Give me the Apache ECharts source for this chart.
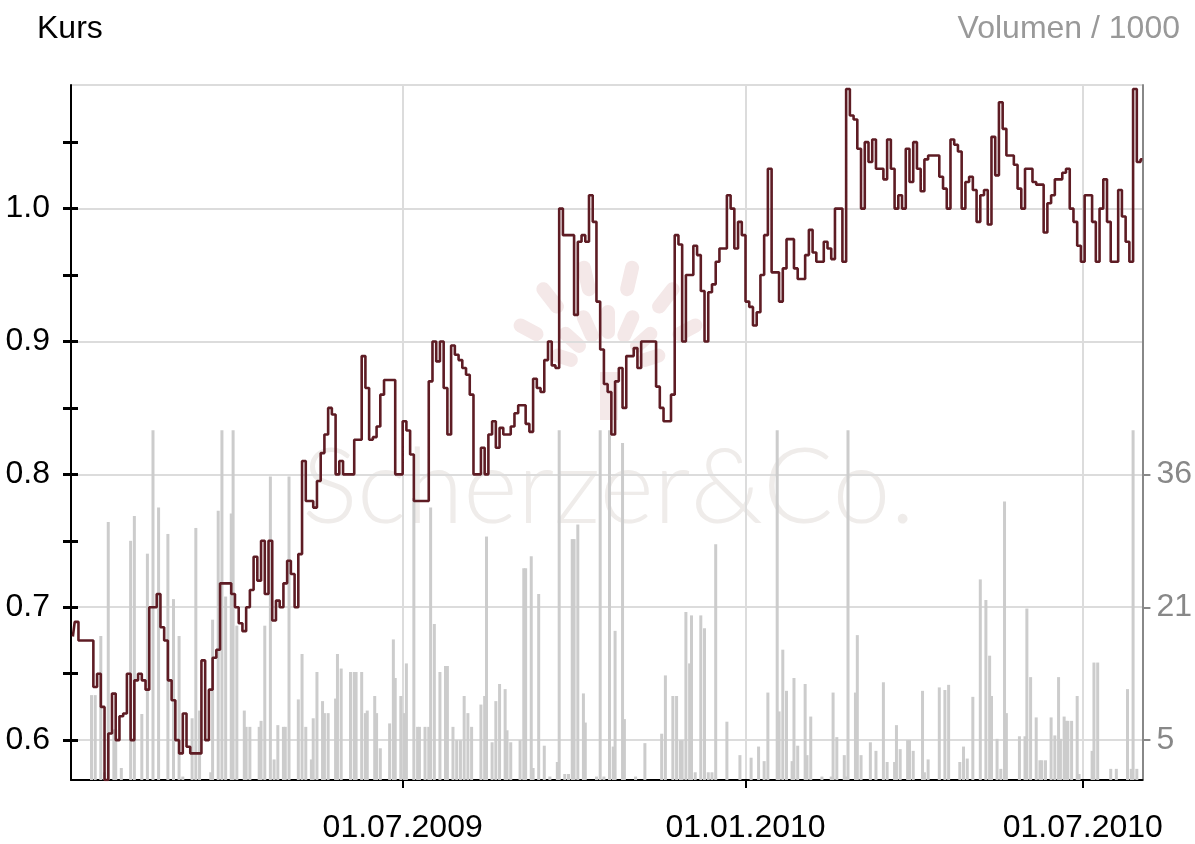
<!DOCTYPE html>
<html><head><meta charset="utf-8">
<script src="https://cdn.jsdelivr.net/npm/echarts@6/dist/echarts.min.js"></script>
<style>html,body{margin:0;padding:0;background:#fff}#c{width:1195px;height:844px}</style>
</head><body><div id="c"></div>
<script>
// ---- data ----
const axisStart = '2009-01-04';
const axisEnd = '2010-08-02';
const kursFirstDate = '2009-01-05';
const kursStepDays = 2;
const kurs = [
0.678,0.689,0.675,0.675,0.675,0.675,0.640,0.650,0.625,0.570,
0.605,0.635,0.600,0.618,0.620,0.650,0.600,0.645,0.650,0.645,
0.638,0.700,0.700,0.710,0.685,0.675,0.645,0.630,0.600,0.590,
0.620,0.595,0.590,0.590,0.590,0.660,0.600,0.638,0.662,0.668,
0.718,0.718,0.718,0.710,0.700,0.688,0.682,0.700,0.713,0.738,
0.720,0.750,0.710,0.750,0.690,0.705,0.700,0.718,
0.735,0.725,0.700,0.740,0.810,0.780,0.780,0.775,0.795,0.816,
0.830,0.850,0.845,0.800,0.810,0.800,0.800,0.800,0.826,0.826,
0.889,0.865,0.826,0.828,0.836,0.860,0.871,0.871,0.871,0.800,
0.800,0.840,0.833,0.815,0.780,0.780,0.780,0.780,0.870,0.900,
0.885,0.900,0.865,0.830,0.897,0.890,0.886,0.880,0.875,0.860,
0.800,0.800,0.820,0.800,0.830,0.840,0.820,
0.835,0.830,0.830,0.836,0.846,0.852,0.852,0.838,0.832,0.872,
0.865,0.862,0.886,0.900,0.882,0.880,1.000,0.980,0.980,0.980,
0.920,0.975,0.980,0.975,1.010,0.990,0.930,0.894,0.868,0.862,
0.830,0.870,0.880,0.850,0.889,0.889,0.895,0.880,0.900,0.900,
0.900,0.900,0.866,0.850,0.840,0.840,0.860,0.980,0.973,0.900,
0.950,0.950,0.972,0.965,0.938,0.900,0.937,0.943,
0.960,0.970,0.970,1.010,1.000,0.970,0.990,0.980,0.930,0.926,
0.912,0.922,0.950,0.980,1.030,0.952,0.952,0.930,0.955,0.977,
0.977,0.955,0.947,0.947,0.965,0.984,0.967,0.960,0.960,0.975,
0.970,0.962,1.000,1.000,0.960,1.090,1.070,1.067,1.045,1.000,
1.050,1.035,1.052,1.030,1.030,1.022,1.052,1.030,1.000,1.010,
1.000,1.045,1.020,1.050,1.030,1.013,
1.037,1.040,1.040,1.040,1.024,1.015,1.000,1.052,1.048,1.043,
1.000,1.020,1.024,1.014,0.990,1.010,1.014,0.988,1.054,1.025,
1.080,1.060,1.040,1.040,1.033,1.015,1.000,1.030,1.030,1.020,
1.018,1.018,0.982,1.004,1.010,1.022,1.022,1.027,1.030,1.000,
0.990,0.972,0.960,1.010,1.010,0.990,0.960,1.000,1.022,0.990,
0.960,0.960,1.014,0.994,0.975,0.960,1.090,1.035,1.037
];
// volume bars: day number after axisStart, volume in 1000
const volDays = [
11,13,16,18,20,23,24,27,32,34,38,41,44,47,52,55,58,60,65,67,69,75,76,79,81,83,86,87,89,93,94,96,
101,102,104,107,109,111,114,115,117,122,124,126,129,130,132,135,136,138,142,143,145,150,152,153,156,158,159,
163,164,166,171,173,174,177,179,180,184,186,187,190,192,193,195,198,201,202,205,207,209,211,213,215,
220,222,223,226,228,230,233,234,236,241,243,244,247,248,251,254,257,261,262,265,267,269,270,272,275,276,
282,284,286,289,291,292,296,297,303,308,317,319,323,325,327,328,330,332,333,335,338,340,342,344,346,352,
359,365,369,372,374,379,380,382,384,387,388,390,394,395,397,403,408,409,411,415,416,417,421,422,424,
429,432,436,438,442,443,445,449,450,452,457,458,460,466,469,471,477,479,481,484,488,491,493,494,497,499,
501,502,509,512,513,515,518,520,521,523,526,528,530,531,533,534,535,537,540,541,548,549,551,558,561,567,569,570,572
];
const volValues = [
10.5,10.5,17.4,1.5,30.7,6.5,6.5,2,28.5,31.4,8.3,27,41.4,32.4,29.3,21.7,17.4,1,7.8,30,8.7,1.5,19.3,32,41.4,22,31.7,41.4,18.6,8.7,6.8,6.8,
6.8,7.5,18.6,36,3,7,6.8,6.8,36,10,15.3,6.8,3,7.8,13.2,9.8,8.4,8.4,10.1,15.3,13.6,13.2,13.2,13.2,13.2,8.4,8.7,
10.4,8.4,4.3,7.2,17,12.5,10.4,8.4,14.2,33.5,6.8,6.8,6.8,6.8,32.4,18.8,13.2,13.9,13.9,6.8,5.25,5.25,10.4,8.4,6.8,
9.4,10.4,29,5,9.8,11.8,11.2,6.4,5,5.25,25.3,25.3,26.7,2,22.3,4.6,1,2.7,41.4,1.3,1.3,28.7,28.7,30.4,10.7,7.3,
1,41.4,1,41.4,4.5,18,39.9,7.7,1,4.9,6,12.8,10.4,10.4,5.25,5.25,20.2,14.2,19.8,1.5,19.8,18.3,1.5,1.5,28.1,7.4,
3.5,3.2,4.5,2.8,10.8,41.4,8.6,15.8,11,2.8,12.5,4.6,11.8,3.5,8,1,1,10.8,5.6,3.5,1,41.4,10.8,17.5,3.5,
5,4,12,2.7,2.7,7,4.2,5.25,5.25,4,11,1.5,3,11.4,11.1,11.7,2.7,4.5,3.1,10.3,24,21.6,15.1,10.4,5.4,1.9,
33.1,8.4,5.7,5.7,20.6,12.6,7.9,2.9,2.9,2.9,7.9,5.8,12.6,5.4,8,7.5,7.5,7.5,10.4,1.3,4,14.3,14.3,1.9,1.9,11.2,1.9,41.4,1.9
];
const xTickDates = ['2009-07-01','2010-01-01','2010-07-01'];
const kursTicks = [0.6,0.7,0.8,0.9,1.0];
const kursMinorTicks = [0.6,0.65,0.7,0.75,0.8,0.85,0.9,0.95,1.0,1.05];
const kursRange = [0.57, 1.093];
const volTicks = [5.25, 20.75, 36.25];
const volRange = [0.6, 81.67];

// ---- helpers ----
function parseD(s){const p=s.split('-').map(Number);return new Date(p[0],p[1]-1,p[2]);}
function addDays(s,n){const d=parseD(s);return new Date(d.getFullYear(),d.getMonth(),d.getDate()+n).getTime();}
function pad(n){return (n<10?'0':'')+n;}
function fmtDate(ts){const d=new Date(ts);return pad(d.getDate())+'.'+pad(d.getMonth()+1)+'.'+d.getFullYear();}

const kursData = kurs.map((v,i)=>[addDays(kursFirstDate,i*kursStepDays), v]);
const volData = volDays.map((d,i)=>[addDays(axisStart,d), volValues[i]]);
const xTickTs = xTickDates.map(s=>parseD(s).getTime());

const FONT = 'Liberation Sans';
const chart = echarts.init(document.getElementById('c'));

// watermark logo leaves
const leaves = [];
const cx = 608, cy = 372;
[[-72,46,28],[-48,48,32],[-24,50,34],[0,50,34],[24,50,34],[48,48,32],[72,46,28],
 [-62,90,32],[-38,94,36],[-13,96,36],[13,96,36],[38,94,36],[62,90,32]].forEach(([a,r,l])=>{
  const rad = a*Math.PI/180;
  leaves.push({type:'rect', x: cx + r*Math.sin(rad), y: cy - r*Math.cos(rad), rotation: -rad,
    shape:{x:-7,y:-l/2,width:14,height:l,r:7}, style:{fill:'#f4e8e8'}, silent:true});
});
leaves.push({type:'rect', shape:{x:600,y:372,width:18,height:48}, style:{fill:'#f4e9e9'}, silent:true});

chart.setOption({
  animation:false,
  backgroundColor:'#fff',
  grid:{left:71,right:52,top:85,bottom:61,containLabel:false},
  graphic:[
    {type:'text', left:37, top:13, style:{text:'Kurs', font:'32px "'+FONT+'"', fill:'#000'}},
    {type:'text', right:15, top:13, style:{text:'Volumen / 1000', font:'32px "'+FONT+'"', fill:'#999'}},
    {type:'text', left:302, top:437, z:-1, style:{text:'Scherzer&Co.', font:'300 104px Lato', fill:'#efecea'}, silent:true},
    {type:'group', z:-1, children: leaves}
  ],
  xAxis:{
    type:'value', min:parseD(axisStart).getTime(), max:parseD(axisEnd).getTime(), scale:true,
    axisLine:{lineStyle:{color:'#000',width:2}},
    axisTick:{show:true, customValues:xTickTs, length:8, lineStyle:{color:'#000',width:2}},
    axisLabel:{customValues:xTickTs, formatter:(v)=>fmtDate(v), fontFamily:FONT, fontSize:32, color:'#000', margin:32},
    splitLine:{show:true, lineStyle:{color:'#dcdcdc',width:2}}
  },
  yAxis:[
    {type:'value', position:'left', min:kursRange[0], max:kursRange[1], splitNumber:5,
     axisLine:{show:true,lineStyle:{color:'#000',width:2}}, axisTick:{show:false},
     axisLabel:{customValues:kursTicks, formatter:(v)=>v.toFixed(1), fontFamily:FONT, fontSize:32, color:'#000', margin:21},
     splitLine:{show:true,lineStyle:{color:'#dcdcdc',width:2}}},
    {type:'value', position:'left', min:kursRange[0], max:kursRange[1],
     axisLine:{show:false}, axisLabel:{show:false}, splitLine:{show:false},
     axisTick:{show:true, customValues:kursMinorTicks, length:8, lineStyle:{color:'#000',width:3}}},
    {type:'value', position:'left', min:kursRange[0], max:kursRange[1],
     axisLine:{show:false}, axisLabel:{show:false}, splitLine:{show:false},
     axisTick:{show:true, inside:true, customValues:kursMinorTicks, length:7, lineStyle:{color:'#000',width:3}}},
    {type:'value', position:'right', min:volRange[0], max:volRange[1],
     axisLine:{show:true,lineStyle:{color:'#888',width:2}},
     axisTick:{show:true, customValues:volTicks, length:8, lineStyle:{color:'#888',width:2}},
     axisLabel:{customValues:volTicks, formatter:(v)=>String(Math.round(v)), fontFamily:FONT, fontSize:32, color:'#888', margin:14},
     splitLine:{show:false}}
  ],
  series:[
    {type:'bar', yAxisIndex:3, data:volData, barWidth:3, itemStyle:{color:'#cccccc'}, z:1, clip:true},
    {type:'line', yAxisIndex:0, data:kursData, step:'middle', showSymbol:false, symbol:'none',
     lineStyle:{color:'#5e1c24',width:2.6}, z:3, clip:true}
  ]
});
</script></body></html>
